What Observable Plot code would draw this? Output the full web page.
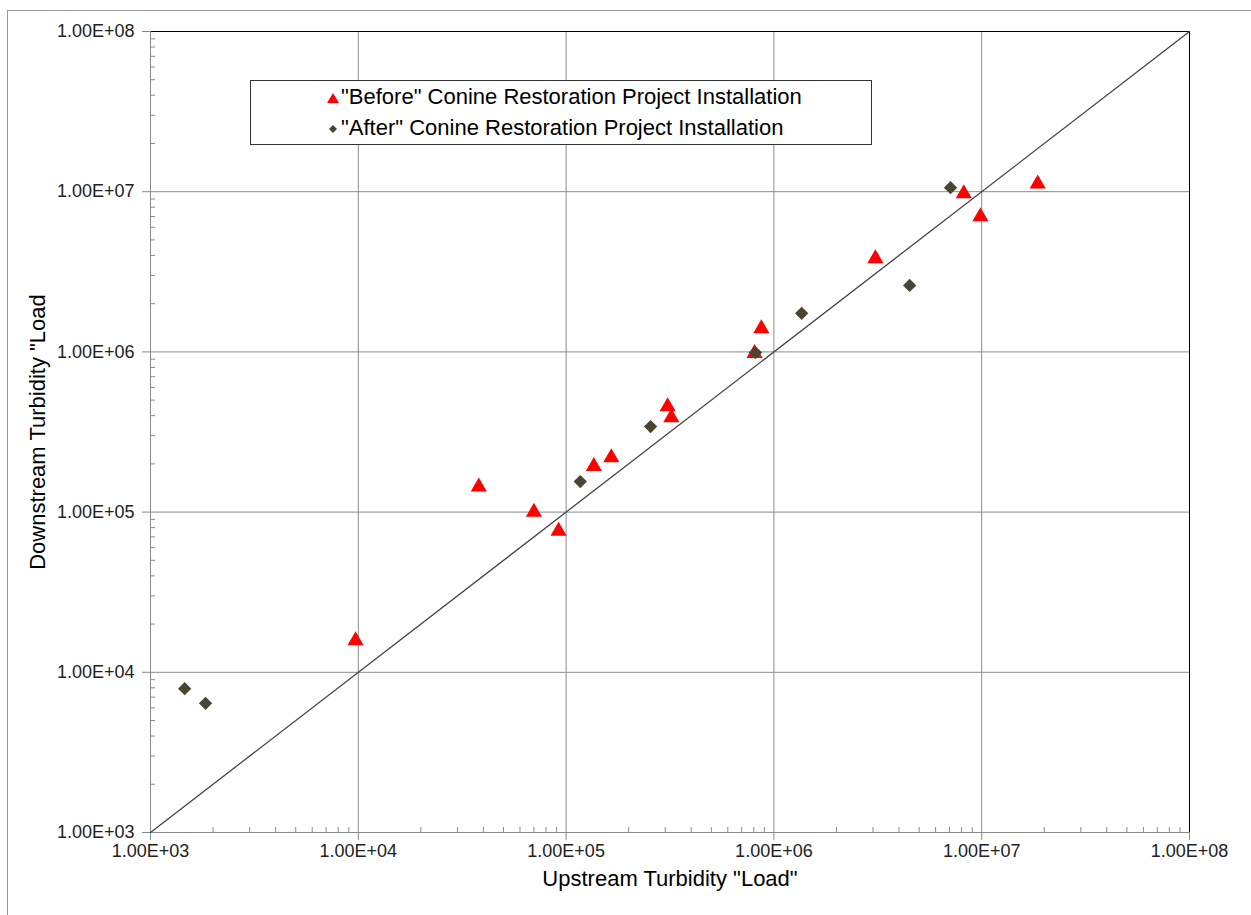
<!DOCTYPE html>
<html>
<head>
<meta charset="utf-8">
<script src="https://cdn.jsdelivr.net/npm/d3@7"></script>
<script src="https://cdn.jsdelivr.net/npm/@observablehq/plot@0.6"></script>
<style>
  html, body { margin: 0; padding: 0; background: #fff; }
  #wrap { position: relative; width: 1251px; height: 915px; overflow: hidden; font-family: "Liberation Sans", Arial, sans-serif; }
  #outer { position: absolute; left: 7px; top: 10px; width: 1300px; height: 1000px; border-top: 1px solid #999; border-left: 1px solid #999; pointer-events: none; }
  #legend { position: absolute; left: 250px; top: 80px; width: 622px; height: 65px; border: 1px solid #333; background: #fff; box-sizing: border-box; }
  .lg { position: absolute; left: 75px; font-size: 22px; color: #000; white-space: nowrap; line-height: 1; }
  .lg svg { vertical-align: -1px; margin-right: 1px; }
  #chart { position: absolute; left: 0; top: 0; }
</style>
</head>
<body>
<div id="wrap">
  <div id="chart"></div>
  <div id="outer"></div>
  <div id="legend">
    <div class="lg" style="top:5px;"><svg width="14" height="14"><path d="M7,2L13,12L1,12Z" fill="#ff0000"/></svg>"Before" Conine Restoration Project Installation</div>
    <div class="lg" style="top:36px;"><svg width="14" height="14"><path d="M7,3L11,7L7,11L3,7Z" fill="#4a4530"/></svg>"After" Conine Restoration Project Installation</div>
  </div>
</div>
<script>
// Data (upstream x, downstream y)
const beforeX = [9.7e3, 3.8e4, 7.0e4, 9.2e4, 1.36e5, 1.65e5, 3.08e5, 3.21e5, 8.07e5, 8.7e5, 3.08e6, 8.2e6, 9.86e6, 1.86e7];
const beforeY = [1.58e4, 1.44e5, 1.0e5, 7.6e4, 1.93e5, 2.19e5, 4.56e5, 3.89e5, 9.8e5, 1.4e6, 3.83e6, 9.75e6, 7.0e6, 1.12e7];
const afterX = [1.46e3, 1.84e3, 1.17e5, 2.55e5, 8.15e5, 1.36e6, 4.5e6, 7.08e6];
const afterY = [7.9e3, 6.4e3, 1.55e5, 3.42e5, 9.9e5, 1.74e6, 2.6e6, 1.06e7];
const majorTicks = [1e3, 1e4, 1e5, 1e6, 1e7, 1e8];
const minorTicks = [3, 4, 5, 6, 7].flatMap(e => [2, 3, 4, 5, 6, 7, 8, 9].map(m => m * Math.pow(10, e)));
const diagonal = [1e3, 1e8];

const before = beforeX.map((x, i) => ({x, y: beforeY[i]}));
const after = afterX.map((x, i) => ({x, y: afterY[i]}));

const fmt = d => d.toExponential(2).toUpperCase().replace(/E([+-])(\d)$/, "E$10$2");

const W = 1251, H = 915;
const mL = 150, mR = 62, mT = 31, mB = 83;
const fw = W - mL - mR, fh = H - mT - mB;

const chart = Plot.plot({
  width: W,
  height: H,
  marginLeft: mL,
  marginRight: mR,
  marginTop: mT,
  marginBottom: mB,
  style: {fontFamily: "'Liberation Sans', Arial, sans-serif", fontSize: "16px", background: "transparent", overflow: "visible"},
  x: {type: "log", domain: [1e3, 1e8]},
  y: {type: "log", domain: [1e3, 1e8]},
  marks: [
    Plot.gridX(majorTicks, {stroke: "#8a8a8a", strokeOpacity: 1}),
    Plot.gridY(majorTicks, {stroke: "#8a8a8a", strokeOpacity: 1}),
    Plot.tickX(minorTicks, {x: d => d, stroke: "#8a8a8a", insetTop: fh - 5}),
    Plot.tickY(minorTicks, {y: d => d, stroke: "#8a8a8a", insetRight: fw - 5}),
    Plot.frame({stroke: "#000"}),
    Plot.ruleX([1e3], {stroke: "#8a8a8a"}),
    Plot.ruleY([1e3], {stroke: "#8a8a8a"}),
    Plot.axisX(majorTicks, {tickSize: 8, tickFormat: () => "", stroke: "#8a8a8a", label: null}),
    Plot.axisY(majorTicks, {tickSize: 8, tickFormat: () => "", stroke: "#8a8a8a", label: null}),
    Plot.text(majorTicks, {x: d => d, frameAnchor: "bottom", lineAnchor: "top", dy: 12, text: fmt, fontSize: 18, fill: "#222"}),
    Plot.text(majorTicks, {y: d => d, frameAnchor: "left", textAnchor: "end", dx: -16, text: fmt, fontSize: 18, fill: "#222"}),
    Plot.line(diagonal, {x: d => d, y: d => d, stroke: "#444", strokeWidth: 1.3}),
    Plot.dot(before, {x: "x", y: "y", symbol: "triangle", r: 6, fill: "#ff0000", stroke: "none"}),
    Plot.dot(after, {x: "x", y: "y", symbol: "diamond2", r: 6, fill: "#4a4530", stroke: "none"}),
    Plot.text(["Upstream Turbidity \"Load\""], {frameAnchor: "bottom", dy: 53, fontSize: 22, fill: "#000"}),
    Plot.text(["Downstream Turbidity \"Load"], {frameAnchor: "left", textAnchor: "middle", dx: -113, rotate: -90, fontSize: 22, fill: "#000"})
  ]
});
document.getElementById("chart").appendChild(chart);
</script>
</body>
</html>
